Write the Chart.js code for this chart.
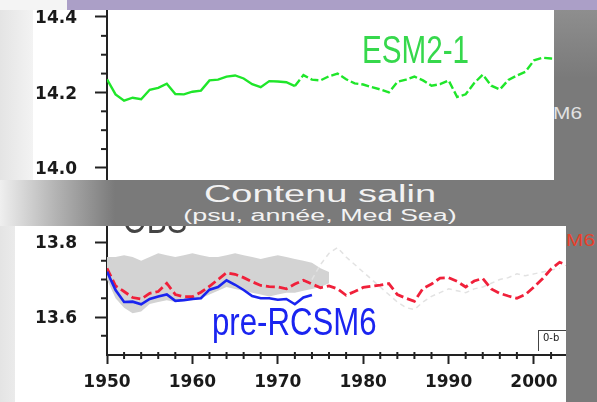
<!DOCTYPE html>
<html>
<head>
<meta charset="utf-8">
<script src="https://cdn.jsdelivr.net/npm/chart.js@4/dist/chart.umd.min.js"></script>
<style>
  body { margin: 0; }
  #stage { position: relative; width: 597px; height: 402px; overflow: hidden; background: #7a7a7a; font-family: "Liberation Sans", Arial, sans-serif; }
  .abs { position: absolute; }
  #leftStrip { left: 0; top: 0; width: 40px; height: 402px; background: linear-gradient(to right, #e4e4e4, #f6f6f6); }
  #topLeft { left: 0; top: 0; width: 67px; height: 10px; background: #f4f4f4; }
  #lav { left: 67px; top: 0; width: 530px; height: 10px; background: #ab9fc7; }
  #rightTop { left: 554px; top: 10px; width: 43px; height: 170px; background: linear-gradient(to bottom, #8e8e8e, #7a7a7a 40%); }
  #band { left: 0; top: 180px; width: 597px; height: 46px; background: linear-gradient(to right, #efefef 0px, #b4b4b4 55px, #7a7a7a 115px, #7a7a7a 100%); }
  .bandText { white-space: nowrap; color: #f2f2f2; transform-origin: center; }
  #title { left: 320px; top: 183px; font-size: 23px; line-height: 23px; transform: translateX(-50%) scaleX(1.65); }
  #subtitle { left: 320px; top: 208px; font-size: 16px; line-height: 16px; transform: translateX(-50%) scaleX(1.68); }
  .sideText { white-space: nowrap; font-size: 16px; line-height: 16px; transform: scaleX(1.3); transform-origin: right; }
  #m6top { right: 15px; top: 106px; color: #e2e2e2; }
  #m6bot { right: 2px; top: 233px; color: #e8402a; }
  .panel { background: #fff; overflow: hidden; }
  #topPanel { left: 33px; top: 10px; width: 521px; height: 170px; }
  #botPanel { left: 15px; top: 226px; width: 551px; height: 176px; }
  #obox { left: 523px; top: 104px; width: 60px; height: 20px; border-left: 1px solid #444; border-top: 1px solid #444;
          font: 10px "DejaVu Sans"; line-height: 14px; padding-left: 4px; color: #222; }
  canvas { display: block; }
</style>
</head>
<body>
<div id="stage">
  <div id="leftStrip" class="abs"></div>
  <div id="topLeft" class="abs"></div>
  <div id="lav" class="abs"></div>
  <div id="rightTop" class="abs"></div>
  <div id="band" class="abs"></div>
  <div id="title" class="abs bandText">Contenu salin</div>
  <div id="subtitle" class="abs bandText">(psu, année, Med Sea)</div>
  <div id="m6top" class="abs sideText">RCSM6</div>
  <div id="m6bot" class="abs sideText">RCSM6</div>
  <div id="topPanel" class="abs panel"><canvas id="topChart" width="521" height="170"></canvas></div>
  <div id="botPanel" class="abs panel">
    <canvas id="botChart" width="551" height="176"></canvas>
    <div id="obox" class="abs">0-b</div>
  </div>
</div>
<script>
// years shared by all series
const years = [1950, 1951, 1952, 1953, 1954, 1955, 1956, 1957, 1958, 1959,
               1960, 1961, 1962, 1963, 1964, 1965, 1966, 1967, 1968, 1969,
               1970, 1971, 1972, 1973, 1974, 1975, 1976, 1977, 1978, 1979,
               1980, 1981, 1982, 1983, 1984, 1985, 1986, 1987, 1988, 1989,
               1990, 1991, 1992, 1993, 1994, 1995, 1996, 1997, 1998, 1999,
               2000, 2001, 2002, 2003, 2004];

// top panel: ESM2-1 (1950-2003)
const esm = [14.235, 14.195, 14.178, 14.186, 14.182, 14.207, 14.212, 14.223, 14.196, 14.195,
             14.202, 14.205, 14.232, 14.234, 14.242, 14.245, 14.237, 14.222, 14.214, 14.230,
             14.229, 14.227, 14.217, 14.246, 14.234, 14.232, 14.243, 14.250, 14.235, 14.224,
             14.221, 14.214, 14.208, 14.200, 14.228, 14.234, 14.242, 14.232, 14.218, 14.222,
             14.232, 14.188, 14.195, 14.225, 14.247, 14.218, 14.208, 14.233, 14.245, 14.255,
             14.285, 14.292, 14.290, 14.288];

// bottom panel: RCSM6 red dashed (1950-2004)
const rcsm = [13.730, 13.683, 13.668, 13.652, 13.648, 13.663, 13.668, 13.690, 13.660, 13.654,
              13.654, 13.666, 13.682, 13.700, 13.718, 13.714, 13.705, 13.694, 13.684, 13.681,
              13.680, 13.675, 13.688, 13.698, 13.688, 13.678, 13.683, 13.675, 13.658, 13.668,
              13.679, 13.682, 13.685, 13.689, 13.660, 13.650, 13.642, 13.676, 13.688, 13.704,
              13.705, 13.695, 13.680, 13.696, 13.703, 13.675, 13.663, 13.656, 13.650, 13.660,
              13.680, 13.702, 13.728, 13.746, 13.738];

// pre-RCSM6 blue (1950-1974)
const preRcsm = [13.721, 13.672, 13.640, 13.641, 13.634, 13.648, 13.655, 13.660, 13.643, 13.645,
                 13.648, 13.650, 13.673, 13.680, 13.698, 13.686, 13.672, 13.656, 13.650, 13.650,
                 13.646, 13.648, 13.634, 13.652, 13.659];

// OBS spread (1950-1976)
const obsUpper = [13.760, 13.760, 13.765, 13.760, 13.750, 13.760, 13.770, 13.765, 13.760, 13.765,
                  13.770, 13.765, 13.760, 13.760, 13.765, 13.770, 13.765, 13.760, 13.755, 13.760,
                  13.765, 13.760, 13.755, 13.750, 13.745, 13.730, 13.720];
const obsLower = [13.700, 13.650, 13.625, 13.610, 13.615, 13.635, 13.640, 13.645, 13.640, 13.645,
                  13.645, 13.650, 13.660, 13.670, 13.680, 13.675, 13.670, 13.665, 13.660, 13.655,
                  13.660, 13.665, 13.665, 13.670, 13.675, 13.680, 13.690];

// faint OBS trace (1974-2003)
const obsLate = [13.700, 13.740, 13.770, 13.785, 13.760, 13.740, 13.720, 13.700, 13.680, 13.660,
                 13.640, 13.625, 13.620, 13.640, 13.655, 13.665, 13.675, 13.670, 13.665, 13.675,
                 13.680, 13.690, 13.700, 13.705, 13.715, 13.710, 13.715, 13.720, 13.725, 13.730];

// axis ticks and labels
const topYTicks = [14.0, 14.05, 14.1, 14.15, 14.2, 14.25, 14.3, 14.35, 14.4];
const topYLabels = ['14.0', '', '', '', '14.2', '', '', '', '14.4'];
const botYTicks = [13.55, 13.6, 13.65, 13.7, 13.75, 13.8];
const botYLabels = ['', '13.6', '', '', '', '13.8'];
const botXTicks = [1950, 1952, 1954, 1956, 1958, 1960, 1962, 1964, 1966, 1968,
                   1970, 1972, 1974, 1976, 1978, 1980, 1982, 1984, 1986, 1988,
                   1990, 1992, 1994, 1996, 1998, 2000, 2002];
const botXLabels = ['1950', '', '', '', '', '1960', '', '', '', '',
                    '1970', '', '', '', '', '1980', '', '', '', '',
                    '1990', '', '', '', '', '2000', ''];

const axisColor = '#222';
const tickFont = { family: 'DejaVu Sans', size: 17, weight: 'bold' };

function pts(xs, vals) {
  return vals.map((v, i) => ({ x: xs[i], y: v }));
}

const majorTickColor = c => (c.tick && c.tick.label !== '' ? axisColor : 'rgba(0,0,0,0)');

// short unlabeled ticks
const minorTicks = {
  id: 'minorTicks',
  afterDraw(chart) {
    const ctx = chart.ctx;
    ctx.save();
    ctx.strokeStyle = axisColor;
    ctx.lineWidth = 2;
    Object.values(chart.scales).forEach(s => {
      if (!s.options.display) return;
      s.ticks.forEach(t => {
        if (t.label !== '') return;
        const p = s.getPixelForValue(t.value);
        ctx.beginPath();
        if (s.isHorizontal()) { ctx.moveTo(p, s.top - 3); ctx.lineTo(p, s.top + 4); }
        else { ctx.moveTo(s.right - 6, p); ctx.lineTo(s.right, p); }
        ctx.stroke();
      });
    });
    ctx.restore();
  }
};

// series names written inside the panels
const panelText = {
  id: 'panelText',
  afterDatasetsDraw(chart, args, opts) {
    const ctx = chart.ctx;
    opts.items.forEach(it => {
      ctx.save();
      ctx.font = it.font;
      ctx.fillStyle = it.color;
      ctx.textBaseline = 'alphabetic';
      ctx.translate(it.x, it.y);
      ctx.scale(it.sx, 1);
      ctx.fillText(it.text, 0, 0);
      ctx.restore();
    });
  }
};

function yAxis(min, max, ticks, labels, width, shift) {
  return {
    min: min,
    max: max,
    afterBuildTicks: s => { s.ticks = ticks.map(v => ({ value: v })); },
    afterFit: s => { s.width = width; s.paddingTop = 0; s.paddingBottom = 0; },
    ticks: { autoSkip: false, padding: 18, labelOffset: shift, font: tickFont, color: '#1a1a1a',
             callback: (v, i) => labels[i] },
    grid: { drawOnChartArea: false, tickLength: 12, tickWidth: 2, tickColor: majorTickColor },
    border: { display: true, color: axisColor, width: 2 }
  };
}

const common = {
  responsive: false,
  animation: false,
  events: [],
  layout: { padding: 0 },
  elements: { point: { radius: 0 }, line: { tension: 0 } }
};

new Chart(document.getElementById('topChart'), {
  type: 'line',
  data: {
    datasets: [{
      label: 'ESM2-1',
      data: pts(years, esm),
      borderColor: '#1fe62a',
      borderWidth: 2.4,
      fill: false,
      segment: { borderDash: c => (c.p0.parsed.x >= 1972 ? [8, 3] : undefined) }
    }]
  },
  options: Object.assign({}, common, {
    scales: {
      x: { type: 'linear', display: false, min: 1950, max: 2002.34 },
      y: yAxis(13.968, 14.4185, topYTicks, topYLabels, 74, 2)
    },
    plugins: {
      legend: { display: false },
      tooltip: { enabled: false },
      panelText: { items: [
        { text: 'ESM2-1', x: 329, y: 53, sx: 0.78, font: '38px "Liberation Sans"', color: '#36d84c' }
      ] }
    }
  }),
  plugins: [minorTicks, panelText]
});

new Chart(document.getElementById('botChart'), {
  type: 'line',
  data: {
    datasets: [
      { label: 'pre-RCSM6', data: pts(years, preRcsm), borderColor: '#1a24f0', borderWidth: 2.6, fill: false },
      { label: 'RCSM6', data: pts(years, rcsm), borderColor: '#f0203a', borderWidth: 2.8, borderDash: [9, 4], fill: false },
      { label: 'OBS late', data: pts(years.slice(24), obsLate), borderColor: '#e2e2e2', borderWidth: 1.5, borderDash: [5, 4], fill: false },
      { label: 'OBS max', data: pts(years, obsUpper), borderWidth: 0, borderColor: 'rgba(0,0,0,0)',
        backgroundColor: '#d3d3d3', fill: '+1' },
      { label: 'OBS min', data: pts(years, obsLower), borderWidth: 0, borderColor: 'rgba(0,0,0,0)', fill: false }
    ]
  },
  options: Object.assign({}, common, {
    scales: {
      x: {
        type: 'linear',
        min: 1950,
        max: 2003.75,
        afterBuildTicks: s => { s.ticks = botXTicks.map(v => ({ value: v })); },
        afterFit: s => { s.height = 47; s.paddingLeft = 0; s.paddingRight = 0; },
        ticks: { autoSkip: false, maxRotation: 0, padding: 8, font: tickFont, color: '#1a1a1a',
                 callback: (v, i) => botXLabels[i] },
        grid: { drawOnChartArea: false, tickLength: 9, tickWidth: 2, tickColor: majorTickColor },
        border: { display: true, color: axisColor, width: 2 }
      },
      y: yAxis(13.4987, 13.8427, botYTicks, botYLabels, 92, 2)
    },
    plugins: {
      legend: { display: false },
      tooltip: { enabled: false },
      filler: { propagate: false },
      panelText: { items: [
        { text: 'OBS', x: 108, y: 7, sx: 0.8, font: '38px "Liberation Sans"', color: '#444' },
        { text: 'pre-RCSM6', x: 197, y: 109, sx: 0.82, font: '38px "Liberation Sans"', color: '#1a24f0' }
      ] }
    }
  }),
  plugins: [minorTicks, panelText]
});
</script>
</body>
</html>
